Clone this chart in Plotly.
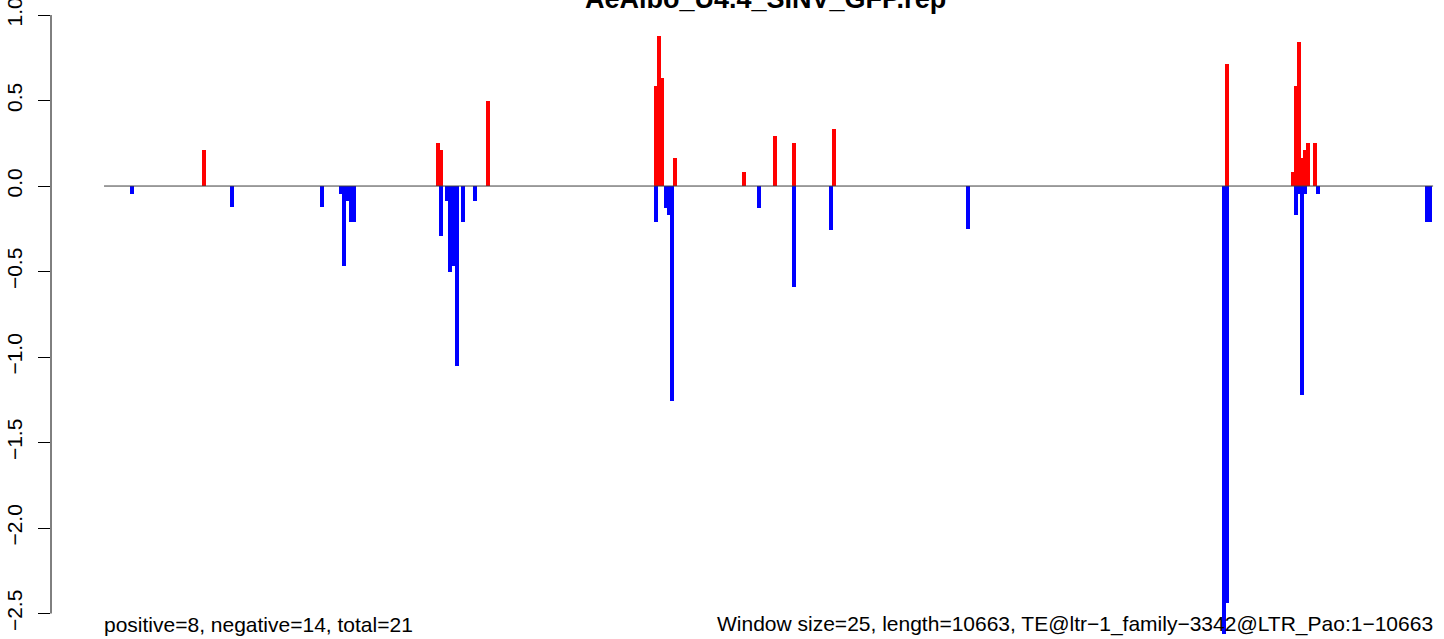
import plotly.graph_objects as go

title_text = "AeAlbo_U4.4_SINV_GFP.rep"
left_note = "positive=8, negative=14, total=21"
right_note = "Window size=25, length=10663, TE@ltr\u22121_family\u22123342@LTR_Pao:1\u221210663"

n_windows = 426

pos_idx = [32, 107, 108, 123, 177, 178, 179, 183, 205, 215, 221, 234, 360,
           381, 382, 383, 384, 385, 386, 388]
pos_val = [0.21, 0.25, 0.21, 0.50, 0.585, 0.88, 0.63, 0.165, 0.082, 0.292, 0.25, 0.333, 0.713,
           0.082, 0.585, 0.842, 0.164, 0.21, 0.25, 0.25]

neg_idx = [9, 41, 70, 76, 77, 78, 79, 80, 108, 110, 111, 112, 113, 115, 119,
           177, 180, 181, 182, 210, 221, 233, 277, 359, 360,
           382, 383, 384, 385, 389, 424, 425]
neg_val = [-0.045, -0.125, -0.125, -0.045, -0.465, -0.085, -0.21, -0.21, -0.295, -0.085, -0.505,
           -0.465, -1.05, -0.21, -0.085,
           -0.21, -0.127, -0.168, -1.26, -0.127, -0.589, -0.257, -0.25, -2.62, -2.44,
           -0.168, -0.045, -1.22, -0.045, -0.045, -0.209, -0.209]

y_ticks = [-2.5, -2.0, -1.5, -1.0, -0.5, 0.0, 0.5, 1.0]

FONT = "Liberation Sans, Arial, sans-serif"

fig = go.Figure()
fig.add_trace(go.Scatter(x=[0, n_windows], y=[0, 0], mode="lines",
                         line=dict(color="#3c3c3c", width=1), hoverinfo="skip", cliponaxis=False))
fig.add_trace(go.Bar(x=pos_idx, y=pos_val, width=1.28, marker=dict(color="#FF0000", line=dict(width=0))))
fig.add_trace(go.Bar(x=neg_idx, y=neg_val, width=1.28, marker=dict(color="#0000FF", line=dict(width=0))))

fig.update_layout(
    width=1444, height=639,
    margin=dict(l=51, r=0, t=0, b=0, autoexpand=False),
    paper_bgcolor="white", plot_bgcolor="white",
    showlegend=False, barmode="overlay", bargap=0,
    font=dict(family=FONT, color="black", size=21),
    xaxis=dict(range=[-17, 429.5], visible=False, showgrid=False, zeroline=False, automargin=False),
    yaxis=dict(range=[-2.649, 1.088], tickvals=y_ticks, tickformat=".1f",
               ticks="outside", ticklen=12, tickwidth=1, tickcolor="black",
               tickangle=-90, showgrid=False, zeroline=False, showline=False, automargin=False,
               ticklabelstandoff=8, ticklabeloverflow="allow",
               tickfont=dict(size=21, family=FONT)),
    shapes=[dict(type="line", xref="paper", yref="y", x0=0, x1=0, y0=-2.5, y1=1.0,
                 line=dict(color="black", width=1))],
    annotations=[
        dict(text="<b>" + title_text + "</b>", xref="paper", yref="paper", x=0.513, y=1.0,
             yanchor="bottom", yshift=-16, showarrow=False, font=dict(size=27, family=FONT)),
        dict(text=left_note, xref="x", yref="paper", x=0, y=0.023, xanchor="left", xshift=-2,
             yanchor="middle", showarrow=False, font=dict(size=21, family=FONT)),
        dict(text=right_note, xref="x", yref="paper", x=n_windows, y=0.023, xanchor="right", xshift=2,
             yanchor="middle", showarrow=False, font=dict(size=21, family=FONT)),
    ],
)

fig.write_html("out.html", config={"displayModeBar": False},
               post_script="document.body.style.margin='0';document.body.style.overflow='hidden';")
